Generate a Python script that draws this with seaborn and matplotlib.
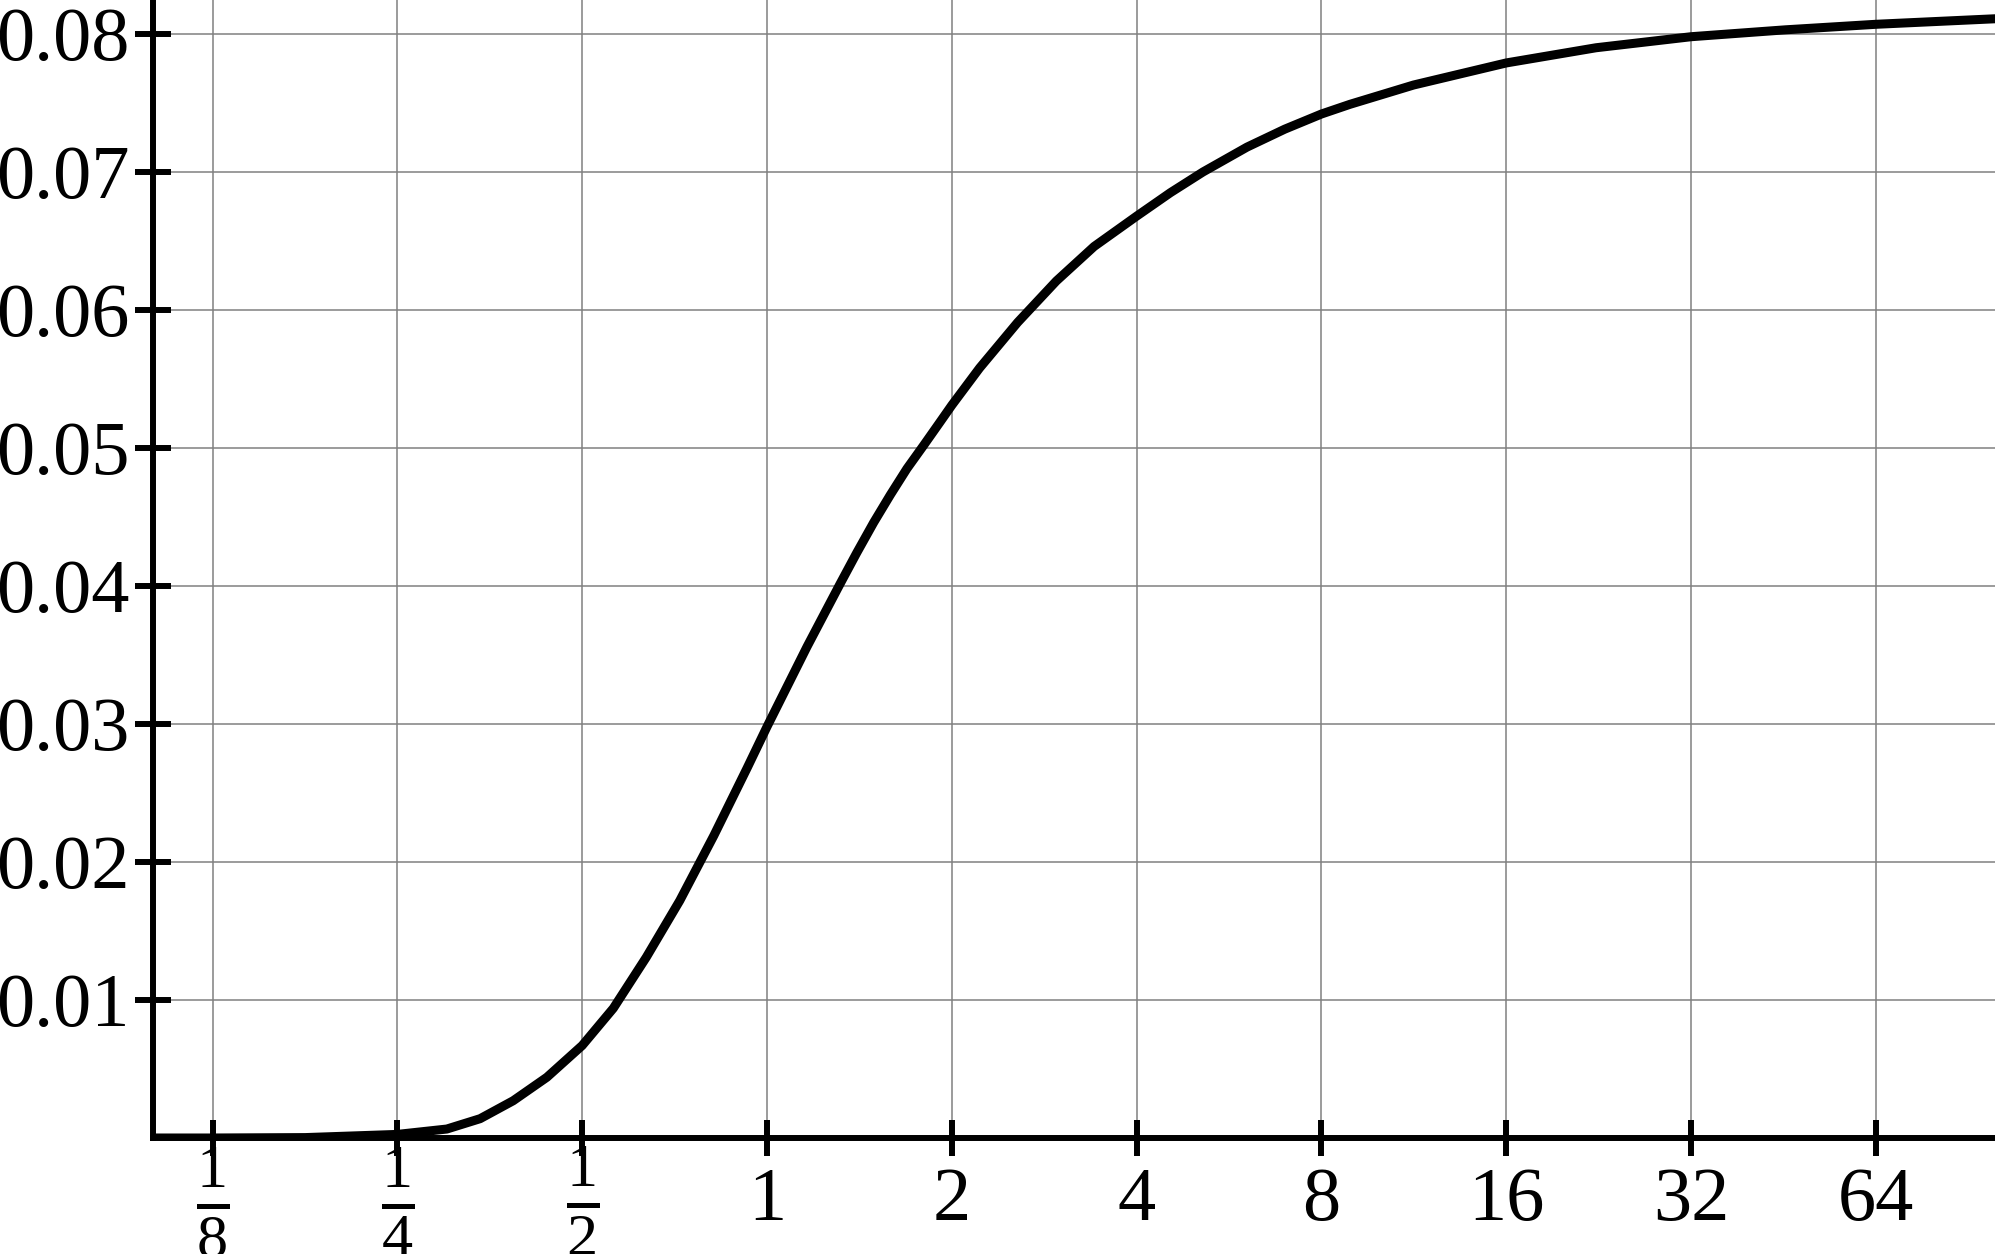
import numpy as np
import pandas as pd
import seaborn as sns
import matplotlib
matplotlib.use("Agg")
import matplotlib.pyplot as plt

# values (x on a log2 scale)
x_vals = [0.1, 0.125, 0.177, 0.25, 0.301, 0.341, 0.386, 0.438, 0.5, 0.562, 0.636,
          0.721, 0.819, 0.928, 1.0, 1.092, 1.162, 1.237, 1.317, 1.40, 1.492, 1.588,
          1.69, 1.80, 1.915, 2.0, 2.22, 2.56, 2.96, 3.41, 4.0, 4.54, 5.13, 6.05,
          6.97, 8.0, 8.9, 11.3, 16.0, 22.4, 32.0, 45.6, 64.0, 100.0]
y_vals = [0.0, 0.0, 0.00003, 0.00026, 0.00065, 0.0014, 0.0027, 0.0044, 0.0067,
          0.0094, 0.0131, 0.0172, 0.0219, 0.0268, 0.0298, 0.0332, 0.0356, 0.0379,
          0.0402, 0.0424, 0.0446, 0.0466, 0.0485, 0.0502, 0.0519, 0.0531, 0.0558,
          0.0591, 0.0621, 0.0646, 0.0668, 0.0685, 0.0700, 0.0718, 0.0731, 0.0742,
          0.0749, 0.0763, 0.0779, 0.0790, 0.0798, 0.0803, 0.0807, 0.0811]

x_ticks = [0.125, 0.25, 0.5, 1, 2, 4, 8, 16, 32, 64]
x_labels = [r"$\frac{1}{8}$", r"$\frac{1}{4}$", r"$\frac{1}{2}$",
            "1", "2", "4", "8", "16", "32", "64"]
y_ticks = [0.01, 0.02, 0.03, 0.04, 0.05, 0.06, 0.07, 0.08]
y_labels = ["0.01", "0.02", "0.03", "0.04", "0.05", "0.06", "0.07", "0.08"]

sns.set_style("white")
plt.rcParams["font.family"] = ["Liberation Serif", "DejaVu Serif"]
plt.rcParams["mathtext.fontset"] = "custom"
plt.rcParams["mathtext.rm"] = "Liberation Serif"
plt.rcParams["mathtext.it"] = "Liberation Serif:italic"
plt.rcParams["text.color"] = "black"

df = pd.DataFrame({"x": x_vals, "y": y_vals})

fig = plt.figure(figsize=(19.95, 12.54), dpi=100)
ax = fig.add_axes([153 / 1995, 116 / 1254, 1 - 153 / 1995, 1 - 116 / 1254])

sns.lineplot(data=df, x="x", y="y", ax=ax, color="black", linewidth=6.5, zorder=3)

ax.set_xscale("log", base=2)
ax.set_xlim(0.1, 100)
ax.set_ylim(0, 0.08246)

ax.set_xticks(x_ticks, x_labels)
ax.set_yticks(y_ticks, y_labels)
ax.minorticks_off()

ax.grid(True, color="#808080", linewidth=1.1, zorder=0)
ax.set_axisbelow(True)

for side in ["top", "right"]:
    ax.spines[side].set_visible(False)
for side in ["left", "bottom"]:
    ax.spines[side].set_linewidth(4.3)
    ax.spines[side].set_color("black")

ax.tick_params(axis="both", direction="inout", length=26, width=4.3,
               color="black", labelcolor="black", labelsize=55,
               bottom=True, left=True)
ax.tick_params(axis="y", pad=4)
ax.tick_params(axis="x", pad=33)
for lab in ax.get_xticklabels():
    lab.set_verticalalignment("center")
    if "frac" in lab.get_text():
        lab.set_fontsize(64)

ax.set_xlabel("")
ax.set_ylabel("")

fig.savefig("out.png", dpi=100)
